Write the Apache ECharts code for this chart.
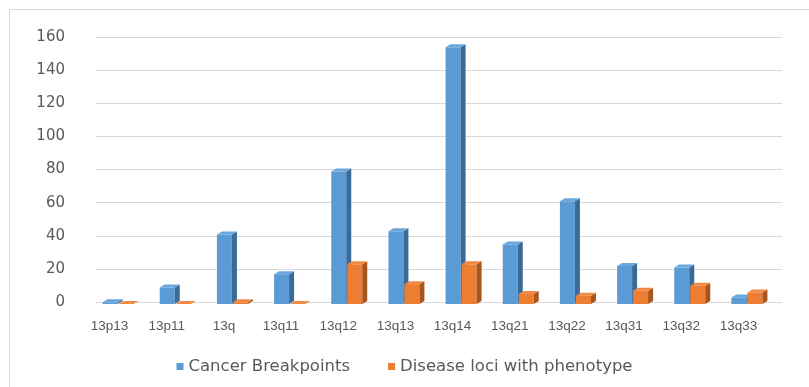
<!DOCTYPE html>
<html>
<head>
<meta charset="utf-8">
<script src="https://cdn.jsdelivr.net/npm/echarts@6/dist/echarts.min.js"></script>
<style>
  html, body { margin: 0; padding: 0; background: #fff; }
  #chart { width: 809px; height: 387px; }
</style>
</head>
<body>
<div id="chart"></div>
<script>
const bands = ['13p13', '13p11', '13q', '13q11', '13q12', '13q13', '13q14', '13q21', '13q22', '13q31', '13q32', '13q33'];
const cancerBreakpoints = [1, 10, 42, 18, 80, 44, 155, 36, 62, 23, 22, 4];
const diseaseLoci = [0, 0, 1, 0, 24, 12, 24, 6, 5, 8, 11, 7];
const yTicks = [0, 160, 20];

const chart = echarts.init(document.getElementById('chart'));

// fake 3D column: front face, darker side, lighter top
function bar3d(offset, front, side, top) {
  return function (params, api) {
    const cat = api.value(0);
    const c = api.coord([cat, api.value(1)]);
    const b = api.coord([cat, 0]);
    const w = 15, d = 5, h = 3;
    const x0 = c[0] - 22 + offset;
    const yb = b[1] + 2;
    const yt = c[1] + 2;
    return {
      type: 'group',
      children: [
        { type: 'polygon', shape: { points: [[x0, yb], [x0 + w, yb], [x0 + w, yt], [x0, yt]] }, style: { fill: front } },
        { type: 'polygon', shape: { points: [[x0 + w, yb], [x0 + w + d, yb - h], [x0 + w + d, yt - h], [x0 + w, yt]] }, style: { fill: side } },
        { type: 'polygon', shape: { points: [[x0, yt], [x0 + w, yt], [x0 + w + d, yt - h], [x0 + d, yt - h]] }, style: { fill: top } }
      ]
    };
  };
}

const option = {
  animation: false,
  textStyle: { fontFamily: 'DejaVu Sans' },
  graphic: [{
    type: 'rect',
    shape: { x: 9.5, y: 9.5, width: 820, height: 400 },
    style: { fill: 'none', stroke: '#d9d9d9', lineWidth: 1 }
  }],
  grid: { left: 96, right: 27, top: 37, bottom: 85 },
  legend: {
    top: 353,
    left: 'center',
    icon: 'rect',
    itemWidth: 7,
    itemHeight: 7,
    itemGap: 38,
    textStyle: { color: '#595959', fontSize: 16.5, fontFamily: 'DejaVu Sans' },
    data: ['Cancer Breakpoints', 'Disease loci with phenotype']
  },
  xAxis: {
    type: 'category',
    data: bands,
    axisLine: { show: false },
    axisTick: { show: false },
    axisLabel: {
      color: '#595959',
      fontSize: 13.5,
      fontFamily: 'Liberation Sans',
      margin: 17,
      interval: 0,
      padding: [0, 30, 0, 0]
    }
  },
  yAxis: {
    type: 'value',
    min: yTicks[0],
    max: yTicks[1],
    interval: yTicks[2],
    axisLine: { show: false },
    axisTick: { show: false },
    splitLine: { lineStyle: { color: '#d9d9d9' } },
    axisLabel: { color: '#595959', fontSize: 15, margin: 31, padding: [8, 0, 0, 0] }
  },
  series: [
    {
      name: 'Cancer Breakpoints',
      type: 'custom',
      itemStyle: { color: '#5b9bd5' },
      renderItem: bar3d(0, '#5b9bd5', '#3a6a98', '#6aa6dc'),
      encode: { x: 0, y: 1 },
      data: cancerBreakpoints.map((v, i) => [i, v])
    },
    {
      name: 'Disease loci with phenotype',
      type: 'custom',
      itemStyle: { color: '#ed7d31' },
      renderItem: bar3d(16, '#ed7d31', '#a9561d', '#f08a44'),
      encode: { x: 0, y: 1 },
      data: diseaseLoci.map((v, i) => [i, v])
    }
  ]
};

chart.setOption(option);
</script>
</body>
</html>
